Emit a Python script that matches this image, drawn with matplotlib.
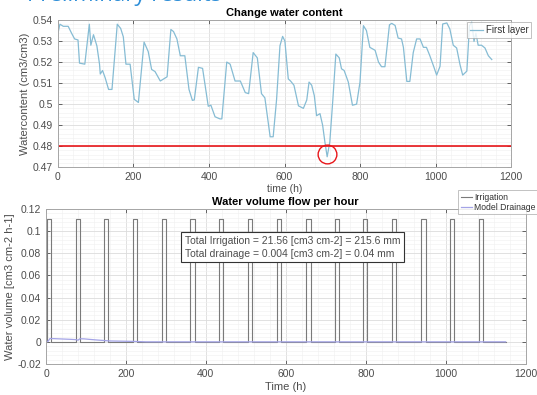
import matplotlib
matplotlib.use("Agg")
import matplotlib.pyplot as plt
import numpy as np
from matplotlib.ticker import MultipleLocator, AutoMinorLocator, FormatStrFormatter

plt.rcParams['font.family'] = ['Liberation Sans', 'DejaVu Sans']

# ---- Top chart data: water content of first layer ----
wc_time = [0, 5, 14, 27, 36, 44, 53, 57, 71, 83, 87, 94, 103, 110, 112, 118, 125, 134, 143,
           157, 166, 173, 180, 191, 202, 213, 228, 239, 248, 257, 271, 280, 289,
           299, 306, 315, 324, 336, 347, 356, 361, 372, 383, 398, 405, 416, 429, 434,
           447, 456, 469, 483, 496, 505, 517, 528, 539, 548, 562, 570, 579, 588, 595,
           601, 610, 616, 625, 637, 650, 659, 665, 672, 679, 685, 694, 701, 707, 713,
           720, 728, 736, 745, 751, 758, 769, 780, 791, 800, 809, 817, 826, 840, 849,
           857, 866, 878, 884, 893, 901, 910, 915, 924, 932, 941, 950, 959, 968, 976,
           985, 996, 1003, 1012, 1019, 1030, 1038, 1047, 1056, 1065, 1072, 1083, 1090,
           1096, 1102, 1107, 1113, 1122, 1131, 1140, 1149]
wc_value = [0.5337, 0.538, 0.537, 0.537, 0.5337, 0.531, 0.5305, 0.5195, 0.519, 0.538, 0.528,
            0.533, 0.5277, 0.519, 0.5143, 0.516, 0.5125, 0.507, 0.507,
            0.538, 0.536, 0.532, 0.519, 0.519, 0.5023, 0.5008, 0.5295, 0.525, 0.5165,
            0.5155, 0.511, 0.512, 0.513,
            0.5355, 0.5345, 0.531, 0.523, 0.523, 0.507, 0.5018, 0.502, 0.5175, 0.517,
            0.499, 0.4995, 0.494, 0.493, 0.493,
            0.520, 0.519, 0.511, 0.511, 0.5055, 0.505, 0.5245, 0.522, 0.505, 0.503,
            0.4845, 0.4845, 0.5022, 0.5278, 0.5322,
            0.530, 0.512, 0.511, 0.509, 0.4992, 0.498, 0.502, 0.5105, 0.509, 0.504,
            0.4945, 0.4955, 0.490, 0.482, 0.475,
            0.482, 0.502, 0.5238, 0.522, 0.5168, 0.516, 0.5105, 0.4995, 0.500, 0.5105,
            0.5373, 0.535, 0.527, 0.5256, 0.520,
            0.5178, 0.5178, 0.5377, 0.5384, 0.5374, 0.5314, 0.531, 0.527, 0.5108,
            0.5108, 0.5245, 0.531, 0.531, 0.527, 0.527,
            0.523, 0.5175, 0.5138, 0.518, 0.5381, 0.5386, 0.5357, 0.528, 0.5267,
            0.5187, 0.5138, 0.5157, 0.5373,
            0.539, 0.5298, 0.5337, 0.528, 0.528, 0.5267, 0.523, 0.5212]
threshold = 0.48
min_point_time = 713
min_point_value = 0.4765

# ---- Bottom chart data ----
pulse_start = [2, 74, 145, 217, 289, 361, 433, 505, 577, 651, 722, 793, 865, 939, 1011, 1083]
pulse_end = [13, 85, 156, 228, 300, 372, 444, 516, 588, 662, 733, 804, 876, 950, 1022, 1094]
pulse_height = 0.111
irrigation_end = 1150

drain_time = [0, 5, 10, 20, 40, 60, 75, 80, 85, 95, 110, 130, 145, 160, 190, 220, 250, 1150]
drain_value = [0, 0.0005, 0.003, 0.0029, 0.0026, 0.0023, 0.002, 0.0015, 0.0028, 0.0027,
               0.0022, 0.0016, 0.0012, 0.0008, 0.0006, 0.0004, 0.0, 0.0]

fig = plt.figure(figsize=(5.37, 3.95), dpi=100)

tick_col = '#4d4d4d'
spine_col = '#a6a6a6'


def style(ax):
    for s in ax.spines.values():
        s.set_color(spine_col)
        s.set_linewidth(0.7)
    ax.tick_params(direction='in', top=True, right=True, colors=tick_col,
                   labelsize=7.5, length=3, width=0.6)
    ax.tick_params(which='minor', length=0)
    ax.xaxis.set_minor_locator(AutoMinorLocator(5))
    ax.yaxis.set_minor_locator(AutoMinorLocator(5))
    ax.grid(True, which='major', color='#dcdcdc', linewidth=0.6)
    ax.grid(True, which='minor', color='#efefef', linewidth=0.4)
    ax.set_axisbelow(True)


# Top axes
ax1 = fig.add_axes([0.108, 0.5765, 0.8436, 0.3729])
ax1.plot(wc_time, wc_value, color='#86bcd4', linewidth=0.9, label='First layer')
ax1.axhline(threshold, color='#e8161a', linewidth=1.2)
ax1.plot([min_point_time], [min_point_value], marker='o', markersize=13.5,
         markerfacecolor='none', markeredgecolor='#e8161a', markeredgewidth=1.0)
ax1.set_xlim(0, 1200)
ax1.set_ylim(0.47, 0.54)
ax1.xaxis.set_major_locator(MultipleLocator(200))
ax1.yaxis.set_major_locator(MultipleLocator(0.01))
ax1.yaxis.set_major_formatter(FormatStrFormatter('%g'))
style(ax1)
ax1.set_title('Change water content', fontsize=8, fontweight='bold', pad=3)
ax1.set_xlabel('time (h)', fontsize=7.5, color=tick_col, labelpad=1)
ax1.set_ylabel('Watercontent (cm3/cm3)', fontsize=8, color=tick_col, labelpad=2)
leg1 = ax1.legend(loc='upper right', bbox_to_anchor=(1.045, 0.985), fontsize=7,
                  frameon=True, fancybox=False, handlelength=1.3, borderpad=0.3,
                  handletextpad=0.3, borderaxespad=0)
leg1.get_frame().set_edgecolor('#a6a6a6')
leg1.get_frame().set_linewidth(0.6)
for t in leg1.get_texts():
    t.set_color('#333333')

# Bottom axes
ax2 = fig.add_axes([0.0857, 0.0785, 0.893, 0.3924])
irr_t = [0]
irr_v = [0]
for s, e in zip(pulse_start, pulse_end):
    irr_t += [s, s, e, e]
    irr_v += [0, pulse_height, pulse_height, 0]
irr_t.append(irrigation_end)
irr_v.append(0)
ax2.plot(irr_t, irr_v, color='#7a7a7a', linewidth=0.8, label='Irrigation')
ax2.plot(drain_time, drain_value, color='#a3a3e6', linewidth=0.9, label='Model Drainage')
ax2.set_xlim(0, 1200)
ax2.set_ylim(-0.02, 0.12)
ax2.xaxis.set_major_locator(MultipleLocator(200))
ax2.yaxis.set_major_locator(MultipleLocator(0.02))
ax2.yaxis.set_major_formatter(FormatStrFormatter('%g'))
style(ax2)
ax2.set_title('Water volume flow per hour', fontsize=8, fontweight='bold', pad=3)
ax2.set_xlabel('Time (h)', fontsize=8, color=tick_col, labelpad=2)
ax2.set_ylabel('Water volume [cm3 cm-2 h-1]', fontsize=8, color=tick_col, labelpad=2)
leg2 = ax2.legend(loc='upper left', bbox_to_anchor=(0.859, 1.12), fontsize=6.2,
                  frameon=True, fancybox=False, handlelength=1.3, borderpad=0.3,
                  handletextpad=0.3, borderaxespad=0, labelspacing=0.1)
leg2.get_frame().set_edgecolor('#a6a6a6')
leg2.get_frame().set_linewidth(0.6)
for t in leg2.get_texts():
    t.set_color('#333333')

ax2.text(0.29, 0.825,
         'Total Irrigation = 21.56 [cm3 cm-2] = 215.6 mm\nTotal drainage = 0.004 [cm3 cm-2] = 0.04 mm',
         transform=ax2.transAxes, fontsize=7.5, color='#4d4d4d', va='top', ha='left',
         linespacing=1.3,
         bbox=dict(boxstyle='square,pad=0.35', facecolor='white', edgecolor='#333333',
                   linewidth=0.8))

# Cut-off slide heading
fig.text(0.05, 1 - 1.5 / 395, 'Preliminary results', fontsize=16, color='#2f8fd8',
         va='baseline', ha='left', family=['Open Sans', 'DejaVu Sans'])

fig.savefig('out.png', dpi=100)
